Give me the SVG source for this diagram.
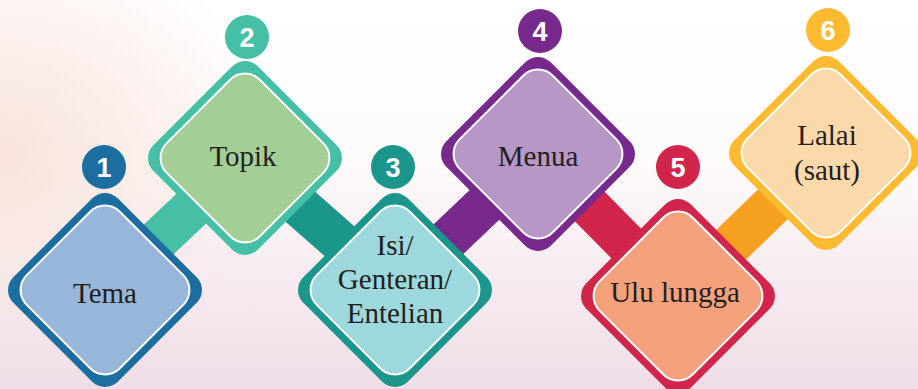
<svg xmlns="http://www.w3.org/2000/svg" width="918" height="389" viewBox="0 0 918 389">
<defs>
<linearGradient id="bg" x1="0" y1="0" x2="0" y2="1">
<stop offset="0" stop-color="#FFFFFF"/>
<stop offset="0.45" stop-color="#FDF9F9"/>
<stop offset="1" stop-color="#EFDDE7"/>
</linearGradient>
<radialGradient id="peach" cx="0" cy="0.4" r="0.6" gradientTransform="scale(0.5 1)">
<stop offset="0" stop-color="#F8E2DB" stop-opacity="0.95"/>
<stop offset="1" stop-color="#F8E2DB" stop-opacity="0"/>
</radialGradient>
<style>
.o{stroke:none}
.i{stroke:#FFFFFF;stroke-width:2}
.t{font-family:"Liberation Serif","Times New Roman",serif;font-size:29px;fill:#231F20;text-anchor:middle}
.n{font-family:"Liberation Sans",Arial,sans-serif;font-size:27px;font-weight:bold;fill:#FFFFFF;text-anchor:middle}
.bar{stroke-width:42;stroke-linecap:butt;fill:none}
</style>
</defs>
<rect width="918" height="389" fill="url(#bg)"/>
<rect width="918" height="389" fill="url(#peach)"/>
<g id="connectors">
<line class="bar" x1="105" y1="290" x2="245" y2="158" stroke="#45BFA5"/>
<line class="bar" x1="245" y1="158" x2="395" y2="290" stroke="#1A968A"/>
<line class="bar" x1="395" y1="290" x2="538" y2="154" stroke="#772A8C"/>
<line class="bar" x1="538" y1="154" x2="678" y2="296" stroke="#D1254B"/>
<line class="bar" x1="678" y1="296" x2="826" y2="153" stroke="#F5A11F"/>
</g>
<g id="node1">
<g transform="translate(105 290) rotate(45)">
<rect class="o" x="-73.85" y="-73.85" width="147.7" height="147.7" rx="18" fill="#1C6EA0"/>
<rect class="i" x="-65.85" y="-65.85" width="131.7" height="131.7" rx="21" fill="#97B6D9"/>
</g>
<text class="t" x="105" y="303">Tema</text>
<circle cx="104" cy="167" r="22" fill="#1C6EA0"/>
<text class="n" x="104" y="176.5">1</text>
</g>
<g id="node2">
<g transform="translate(245 158) rotate(45)">
<rect class="o" x="-73.85" y="-73.85" width="147.7" height="147.7" rx="18" fill="#45BFA5"/>
<rect class="i" x="-65.85" y="-65.85" width="131.7" height="131.7" rx="21" fill="#A3CE95"/>
</g>
<text class="t" x="243" y="166">Topik</text>
<circle cx="247" cy="37" r="22" fill="#45BFA5"/>
<text class="n" x="247" y="46.5">2</text>
</g>
<g id="node3">
<g transform="translate(395 290) rotate(45)">
<rect class="o" x="-73.85" y="-73.85" width="147.7" height="147.7" rx="18" fill="#1A968A"/>
<rect class="i" x="-65.85" y="-65.85" width="131.7" height="131.7" rx="21" fill="#9DD8DC"/>
</g>
<text class="t" x="395" y="255">Isi/</text>
<text class="t" x="395" y="289">Genteran/</text>
<text class="t" x="395" y="323">Entelian</text>
<circle cx="393" cy="167" r="22" fill="#1A968A"/>
<text class="n" x="393" y="176.5">3</text>
</g>
<g id="node4">
<g transform="translate(538 154) rotate(45)">
<rect class="o" x="-73.85" y="-73.85" width="147.7" height="147.7" rx="18" fill="#772A8C"/>
<rect class="i" x="-65.85" y="-65.85" width="131.7" height="131.7" rx="21" fill="#B697C6"/>
</g>
<text class="t" x="538" y="166">Menua</text>
<circle cx="540" cy="31" r="22" fill="#772A8C"/>
<text class="n" x="540" y="40.5">4</text>
</g>
<g id="node5">
<g transform="translate(678 296) rotate(45)">
<rect class="o" x="-73.85" y="-73.85" width="147.7" height="147.7" rx="18" fill="#D1254B"/>
<rect class="i" x="-65.85" y="-65.85" width="131.7" height="131.7" rx="21" fill="#F4A17C"/>
</g>
<text class="t" x="675" y="302">Ulu lungga</text>
<circle cx="678" cy="167" r="22" fill="#D1254B"/>
<text class="n" x="678" y="176.5">5</text>
</g>
<g id="node6">
<g transform="translate(826 153) rotate(45)">
<rect class="o" x="-73.85" y="-73.85" width="147.7" height="147.7" rx="18" fill="#FCBA31"/>
<rect class="i" x="-65.85" y="-65.85" width="131.7" height="131.7" rx="21" fill="#FCD9AA"/>
</g>
<text class="t" x="827" y="145">Lalai</text>
<text class="t" x="827" y="180">(saut)</text>
<circle cx="828" cy="30" r="22" fill="#FCBA31"/>
<text class="n" x="828" y="39.5">6</text>
</g>
</svg>
